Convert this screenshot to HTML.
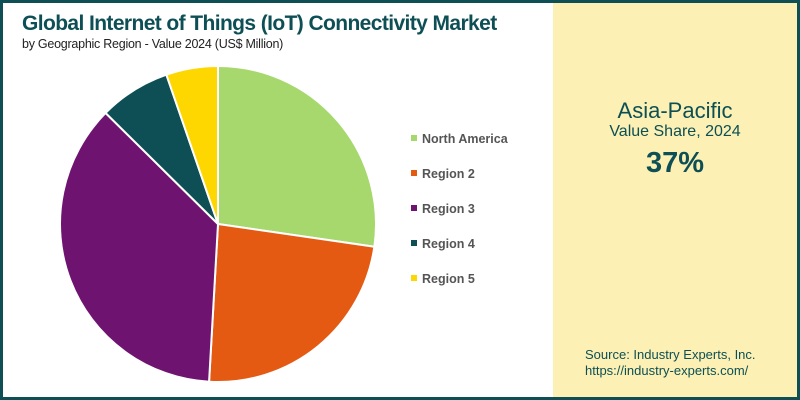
<!DOCTYPE html>
<html><head><meta charset="utf-8"><style>
body{margin:0;width:800px;height:400px;overflow:hidden;font-family:"Liberation Sans",sans-serif}
#frame{position:absolute;left:0;top:0;width:794px;height:394px;border:3px solid #0d4f55;background:#fff}
#panel{position:absolute;left:553px;top:3px;width:244px;height:394px;background:#fcf0b4}
.t{position:absolute;color:#0d4f55;white-space:nowrap}
</style></head><body>
<div id="frame"></div>
<div id="panel"></div>
<div class="t" style="left:22px;top:12px;font-size:21px;font-weight:bold;letter-spacing:-0.6px">Global Internet of Things (IoT) Connectivity Market</div>
<div class="t" style="left:22px;top:37px;font-size:12.5px;letter-spacing:-0.25px;color:#222">by Geographic Region - Value 2024 (US$ Million)</div>
<div class="t" style="left:553px;width:244px;text-align:center;top:98px;font-size:22px">Asia-Pacific</div>
<div class="t" style="left:553px;width:244px;text-align:center;top:123px;font-size:16px">Value Share, 2024</div>
<div class="t" style="left:553px;width:244px;text-align:center;top:147px;font-size:29px;font-weight:bold">37%</div>
<div class="t" style="left:585px;top:347px;font-size:13px;line-height:16px">Source: Industry Experts, Inc.<br>https://industry-experts.com/</div>
<svg id="pie" width="800" height="400" style="position:absolute;left:0;top:0"></svg>
<script>
const categories=["North America","Region 2","Region 3","Region 4","Region 5"];
const values=[27.3,23.6,36.5,7.3,5.3];
const colors=["#a6d86e","#e55a13","#6e1470","#0d4f55","#fed700"];
const svg=document.getElementById('pie');
const NS="http://www.w3.org/2000/svg";
const cx=218,cy=224,r=158;
const total=values.reduce((a,b)=>a+b,0);
let a0=0;
function pt(a){return [cx+r*Math.sin(a),cy-r*Math.cos(a)];}
values.forEach((v,i)=>{
  const a1=a0+v/total*2*Math.PI;
  const p0=pt(a0),p1=pt(a1);
  const p=document.createElementNS(NS,'path');
  p.setAttribute('d',`M${cx},${cy}L${p0[0]},${p0[1]}A${r},${r} 0 ${a1-a0>Math.PI?1:0} 1 ${p1[0]},${p1[1]}Z`);
  p.setAttribute('fill',colors[i]);p.setAttribute('stroke','#fff');p.setAttribute('stroke-width','2');
  
  
  svg.appendChild(p);
  a0=a1;
  const y=139+i*35;
  const s=document.createElementNS(NS,'rect');
  s.setAttribute('x',411);s.setAttribute('y',y-4);s.setAttribute('width',6);s.setAttribute('height',6);s.setAttribute('fill',colors[i]);
  
  
  svg.appendChild(s);
  const t=document.createElementNS(NS,'text');
  t.setAttribute('x',422);t.setAttribute('y',y+4);t.setAttribute('font-size','12.5');t.setAttribute('font-weight','bold');t.setAttribute('fill','#555');
  t.setAttribute('font-family','Liberation Sans, sans-serif');
  t.textContent=categories[i];
  
  
  svg.appendChild(t);
});
</script>
</body></html>
